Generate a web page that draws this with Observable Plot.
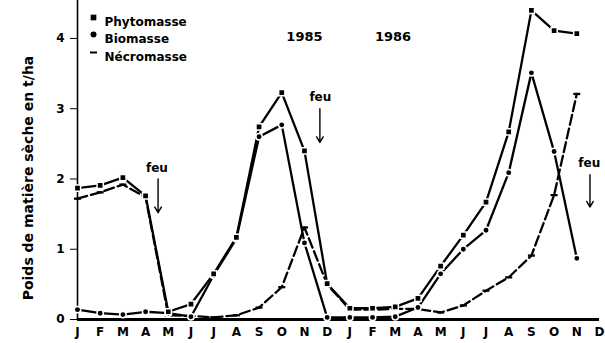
<!DOCTYPE html>
<html>
<head>
<meta charset="utf-8">
<script src="https://cdn.jsdelivr.net/npm/d3@7"></script>
<script src="https://cdn.jsdelivr.net/npm/@observablehq/plot@0.6"></script>
<style>
  html, body { margin: 0; padding: 0; background: #fff; }
  #chart svg { display: block; }
</style>
</head>
<body>
<div id="chart"></div>
<script>
// Month tick labels (Jan 1985 .. Dec 1986)
const months = ["J","F","M","A","M","J","J","A","S","O","N","D",
                "J","F","M","A","M","J","J","A","S","O","N","D"];
// Series values (t/ha), one per month from Jan 1985
const phytomasse = [1.87,1.91,2.02,1.76,0.11,0.22,0.65,1.17,2.74,3.23,2.40,0.51,
                    0.16,0.16,0.18,0.30,0.76,1.20,1.67,2.67,4.40,4.11,4.07];
const biomasse   = [0.14,0.09,0.07,0.11,0.09,0.04,0.63,1.15,2.60,2.77,1.09,0.03,
                    0.03,0.03,0.04,0.17,0.65,1.00,1.27,2.09,3.51,2.39,0.87];
const necromasse = [1.72,1.81,1.92,1.74,0.06,0.05,0.03,0.06,0.17,0.46,1.31,0.50,
                    0.14,0.14,0.15,0.15,0.10,0.20,0.41,0.60,0.91,1.77,3.21];
const yTicks = [0,1,2,3,4];
const seriesNames = ["Phytomasse","Biomasse","Nécromasse"];
const years = ["1985","1986"];
const fireLabel = "feu";
const yLabel = "Poids de matière sèche en t/ha";

const toRows = (arr) => arr.map((v, i) => ({i, v}));
const P = toRows(phytomasse), B = toRows(biomasse), N = toRows(necromasse);

const dashSymbol = {draw(ctx, size) { ctx.moveTo(-3.5, 0); ctx.lineTo(3.5, 0); }};
const font = "DejaVu Sans";

const chart = Plot.plot({
  width: 605,
  height: 343,
  marginLeft: 77,
  marginRight: 6,
  marginTop: 0,
  marginBottom: 24,
  style: {fontFamily: font, fontWeight: "bold", fontSize: "12px", background: "white", color: "black"},
  x: {domain: [0, 23], ticks: d3.range(months.length), tickFormat: i => months[i],
      tickSize: 0, tickPadding: 8, label: null},
  y: {domain: [0, 4.54], ticks: yTicks, tickFormat: d3.format("d"),
      tickSize: 7, tickPadding: 6, label: null},
  marks: [
    Plot.ruleX([0], {y1: 0, y2: 4.54, stroke: "black", strokeWidth: 1.6}),
    Plot.ruleY([0], {stroke: "black", strokeWidth: 3}),
    // lines
    Plot.line(P, {x: "i", y: "v", stroke: "black", strokeWidth: 2.3}),
    Plot.line(B, {x: "i", y: "v", stroke: "black", strokeWidth: 2.3}),
    Plot.line(N, {x: "i", y: "v", stroke: "black", strokeWidth: 2.3, strokeDasharray: "10,4"}),
    // markers
    Plot.dot(N, {x: "i", y: "v", symbol: dashSymbol, stroke: "black", strokeWidth: 2.3, r: 3}),
    Plot.dot(B, {x: "i", y: "v", symbol: "circle", r: 3.2, fill: "black", stroke: "white", strokeWidth: 1.5}),
    Plot.dot(P, {x: "i", y: "v", symbol: "square", r: 3.5, fill: "black", stroke: "white", strokeWidth: 1.5}),
    // year labels
    Plot.text([years[0]], {x: 10.0, y: 4.03, text: d => d, fontSize: 13, fontWeight: "bold"}),
    Plot.text([years[1]], {x: 13.9, y: 4.03, text: d => d, fontSize: 13, fontWeight: "bold"}),
    // fire annotations
    Plot.text([fireLabel], {x: 3.5, y: 2.15, text: d => d, fontSize: 12, fontWeight: "bold"}),
    Plot.arrow([0], {x1: 3.55, y1: 2.0, x2: 3.55, y2: 1.52, stroke: "black", strokeWidth: 1.4, headLength: 7}),
    Plot.text([fireLabel], {x: 10.7, y: 3.16, text: d => d, fontSize: 12, fontWeight: "bold"}),
    Plot.arrow([0], {x1: 10.68, y1: 3.0, x2: 10.68, y2: 2.52, stroke: "black", strokeWidth: 1.4, headLength: 7}),
    Plot.text([fireLabel], {x: 22.55, y: 2.23, text: d => d, fontSize: 12, fontWeight: "bold"}),
    Plot.arrow([0], {x1: 22.58, y1: 2.06, x2: 22.58, y2: 1.6, stroke: "black", strokeWidth: 1.4, headLength: 7}),
    // legend
    Plot.dot([seriesNames[0]], {frameAnchor: "top-left", dx: 16, dy: 17, symbol: "square", r: 3.2, fill: "black"}),
    Plot.dot([seriesNames[1]], {frameAnchor: "top-left", dx: 16, dy: 34, symbol: "circle", r: 3, fill: "black"}),
    Plot.dot([seriesNames[2]], {frameAnchor: "top-left", dx: 16, dy: 52, symbol: dashSymbol, stroke: "black", strokeWidth: 2}),
    Plot.text([seriesNames[0]], {frameAnchor: "top-left", dx: 27, dy: 17, text: d => d, textAnchor: "start", fontSize: 12, fontWeight: "bold"}),
    Plot.text([seriesNames[1]], {frameAnchor: "top-left", dx: 27, dy: 34, text: d => d, textAnchor: "start", fontSize: 12, fontWeight: "bold"}),
    Plot.text([seriesNames[2]], {frameAnchor: "top-left", dx: 27, dy: 52, text: d => d, textAnchor: "start", fontSize: 12, fontWeight: "bold"}),
    // y axis title
    Plot.text([yLabel], {frameAnchor: "left", textAnchor: "middle", dx: -49, dy: 18, rotate: -90, text: d => d, fontSize: 14, fontWeight: "bold"})
  ]
});
document.getElementById("chart").appendChild(chart);
</script>
</body>
</html>
